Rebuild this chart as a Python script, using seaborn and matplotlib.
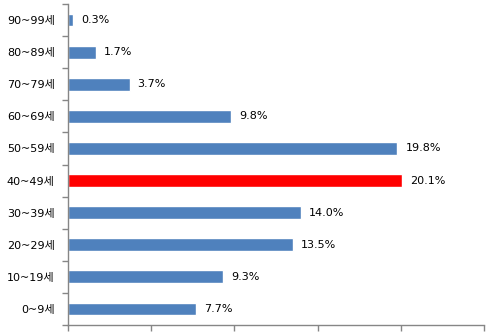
import matplotlib
matplotlib.use("Agg")
import matplotlib.pyplot as plt
from matplotlib.ticker import MultipleLocator, FixedLocator, NullFormatter
import seaborn as sns
import pandas as pd

# Age groups, top to bottom, and their share (%)
age_groups = ["90~99세", "80~89세", "70~79세", "60~69세", "50~59세",
              "40~49세", "30~39세", "20~29세", "10~19세", "0~9세"]
shares = [0.3, 1.7, 3.7, 9.8, 19.8, 20.1, 14.0, 13.5, 9.3, 7.7]
highlight = "40~49세"

sns.set_theme(style="white")
plt.rcParams["font.family"] = ["DejaVu Sans", "Noto Sans CJK KR"]

df = pd.DataFrame({"age": age_groups, "share": shares})
palette = {a: ("#FF0000" if a == highlight else "#4F81BD") for a in age_groups}

fig = plt.figure(figsize=(5.01, 3.35), dpi=100)
ax = fig.add_axes([0.1357, 0.0299, 0.966 - 0.1357, 0.988 - 0.0299])

sns.barplot(data=df, x="share", y="age", hue="age", order=age_groups,
            hue_order=age_groups, palette=palette, width=0.4, legend=False,
            saturation=1, ax=ax)

for cont in ax.containers:
    ax.bar_label(cont, fmt="%.1f%%", padding=5.8, fontsize=8, color="black")

ax.set_xlim(0, 25)
ax.set_ylim(len(age_groups) - 0.5, -0.5)
ax.set_xlabel("")
ax.set_ylabel("")

gray = "#868686"
for side in ("top", "right"):
    ax.spines[side].set_visible(False)
for side in ("left", "bottom"):
    ax.spines[side].set_color(gray)
    ax.spines[side].set_linewidth(1.0)

# x axis: ticks every 5%, no labels
ax.xaxis.set_major_locator(MultipleLocator(5))
ax.xaxis.set_major_formatter(NullFormatter())
ax.tick_params(axis="x", which="major", length=4, width=1, color=gray,
               direction="out", bottom=True)

# y axis: labels at category centres, tick marks at category boundaries
ax.tick_params(axis="y", which="major", length=0, pad=9.5, labelsize=8,
               labelcolor="black")
ax.yaxis.set_minor_locator(FixedLocator([i - 0.5 for i in range(len(age_groups) + 1)]))
ax.tick_params(axis="y", which="minor", length=4, width=1, color=gray,
               direction="out", left=True)

fig.savefig("out.png", dpi=100)
